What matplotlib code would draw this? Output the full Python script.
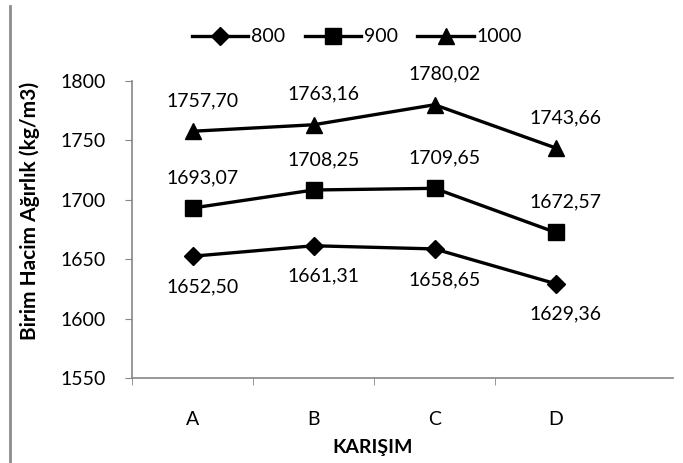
import matplotlib
matplotlib.use("Agg")
import matplotlib.pyplot as plt
from matplotlib.lines import Line2D

plt.rcParams['font.family'] = ['Lato', 'DejaVu Sans']

karisim = ['A', 'B', 'C', 'D']
s800 = [1652.50, 1661.31, 1658.65, 1629.36]
s900 = [1693.07, 1708.25, 1709.65, 1672.57]
s1000 = [1757.70, 1763.16, 1780.02, 1743.66]
seriler = ['800', '900', '1000']

W, H = 683, 463
fig = plt.figure(figsize=(W / 100, H / 100), dpi=100)
ax = fig.add_axes([132 / W, 1 - 378 / H, (673 - 132) / W, (378 - 81) / H])

x = list(range(len(karisim)))
stil = [('D', 9), ('s', 11), ('^', 11)]
veri = [s800, s900, s1000]
yon = [-1, 1, 1]  # 800 etiketleri altta, digerleri ustte

for ad, y, (m, ms), d in zip(seriler, veri, stil, yon):
    ax.plot(x, y, color='black', lw=2.4, marker=m, markersize=ms, label=ad)
    for xi, yi in zip(x, y):
        etiket = f"{yi:.2f}".replace('.', ',')
        ax.annotate(etiket, (xi, yi), xytext=(7, 22 * d), textcoords='offset points',
                    ha='center', va='center', fontsize=14)

ax.set_ylim(1550, 1800)
ax.set_yticks(range(1550, 1801, 50))
ax.set_xlim(-0.5, 3.97)
ax.set_xticks(x)
ax.set_xticklabels(karisim)
ax.set_xticks([-0.5, 0.5, 1.5, 2.5], minor=True)
ax.tick_params(axis='x', which='major', length=0, pad=24, labelsize=14)
ax.tick_params(axis='x', which='minor', length=5, color='#868686', direction='out')
ax.tick_params(axis='y', length=5, color='#868686', pad=14, labelsize=14)

for s in ['top', 'right']:
    ax.spines[s].set_visible(False)
for s in ['left', 'bottom']:
    ax.spines[s].set_color('#868686')
    ax.spines[s].set_linewidth(1.2)

fig.text(373 / W, 1 - 448 / H, 'KARIŞIM', ha='center', va='center',
         fontsize=14, fontweight='bold')
fig.text(30 / W, 1 - 211 / H, 'Birim Hacim Ağırlık (kg/m3)', ha='center', va='center',
         rotation=90, fontsize=15, fontweight='bold')

fig.legend(loc='center', bbox_to_anchor=(357 / W, 1 - 37 / H), ncol=3, frameon=False,
           fontsize=14, handlelength=2.9, columnspacing=1.0, handletextpad=0.15)

# sol kenardaki gri cerceve cizgisi
fig.add_artist(Line2D([10 / W, 10 / W], [0, 1 - 6 / H], color='#8c8c8c', lw=2,
                      transform=fig.transFigure))

fig.savefig('out.png', dpi=100)
